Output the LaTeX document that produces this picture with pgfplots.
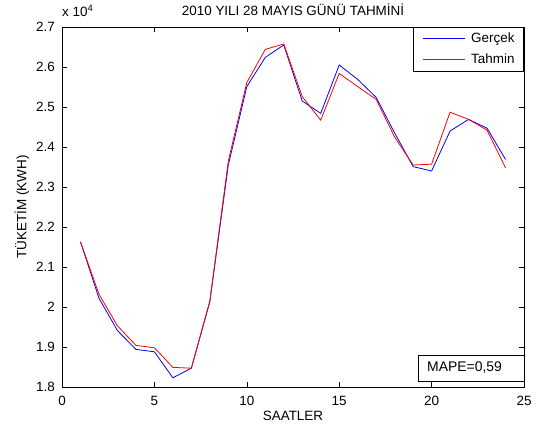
\documentclass[border=0pt]{standalone}
\usepackage{pgfplots}
\pgfplotsset{compat=1.18}
\usepackage{fontspec}
\setmainfont{Liberation Sans}
\definecolor{mblue}{RGB}{0,0,255}
\definecolor{mred}{RGB}{255,0,0}
\begin{document}
\begin{tikzpicture}
\begin{axis}[
  name=ax,
  scale only axis,
  width=462bp, height=360bp,
  clip mode=individual,
  xmin=0, xmax=25, ymin=18000, ymax=27000,
  xtick={0,5,...,25},
  ytick={18000,19000,20000,21000,22000,23000,24000,25000,26000,27000},
  yticklabels={1.8,1.9,2,2.1,2.2,2.3,2.4,2.5,2.6,2.7},
  scaled y ticks=false,
  /pgf/number format/assume math mode=true,
  tick align=inside,
  major tick length=5bp,
  axis line style={line width=0.8bp},
  every tick/.style={black, line width=0.6bp},
  tick label style={font=\fontsize{13.5}{15}\selectfont},
  xticklabel style={anchor=north, inner sep=0pt, yshift=-9bp},
  yticklabel style={anchor=east, inner sep=0pt, xshift=-7bp},
  legend style={at={(rel axis cs:1,1)}, anchor=north east, draw=black, line width=0.8bp,
    font=\fontsize{13.5}{15}\selectfont, inner xsep=9bp, inner ysep=5.3bp,
    nodes={inner sep=0pt, text height=9.5bp, text depth=2.5bp},
    row sep=9bp, column sep=6bp},
  legend cell align=left,
  legend image code/.code={\draw[#1, line width=0.8bp] (0bp,0bp) -- (42bp,0bp);},
]
\addplot[mblue, line width=0.8bp] coordinates {
(1,21630) (2,20220) (3,19410) (4,18940) (5,18880) (6,18230) (7,18470) (8,20130)
(9,23550) (10,25510) (11,26240) (12,26550) (13,25150) (14,24840) (15,26050) (16,25690)
(17,25240) (18,24350) (19,23510) (20,23400) (21,24400) (22,24690) (23,24470) (24,23690)};
\addlegendentry{Gerçek}
\addplot[mred, line width=0.8bp] coordinates {
(1,21630) (2,20320) (3,19530) (4,19040) (5,18980) (6,18490) (7,18470) (8,20150)
(9,23650) (10,25610) (11,26440) (12,26575) (13,25260) (14,24670) (15,25840) (16,25510)
(17,25190) (18,24250) (19,23550) (20,23570) (21,24870) (22,24690) (23,24420) (24,23480)};
\addlegendentry{Tahmin}
\draw[black, line width=0.8bp, fill=white] (rel axis cs:0.7706,0.0167) rectangle (rel axis cs:1,0.0889);
\node[anchor=base west, inner sep=0pt, font=\fontsize{14}{16}\selectfont] at (rel axis cs:0.790,0) [yshift=15.3bp] {MAPE=0,59};
\node[anchor=base west, inner sep=0pt, font=\fontsize{13.5}{15}\selectfont] at (rel axis cs:0,1) [yshift=10.5bp] {x 10\textsuperscript{4}};
\node[anchor=base, inner sep=0pt, font=\fontsize{13.5}{15}\selectfont] at (rel axis cs:0.5,1) [yshift=11bp] {2010 YILI 28 MAYIS GÜNÜ TAHMİNİ};
\node[anchor=base, inner sep=0pt, font=\fontsize{13.5}{15}\selectfont] at (rel axis cs:0.5,0) [yshift=-34bp] {SAATLER};
\node[anchor=base, rotate=90, inner sep=0pt, font=\fontsize{13.5}{15}\selectfont] at ([xshift=-35.5bp] rel axis cs:0,0.5) {TÜKETİM (KWH)};
\coordinate (sw) at (rel axis cs:0,0);
\coordinate (ne) at (rel axis cs:1,1);
\end{axis}
\pgfresetboundingbox
\path (sw) ++(-62bp,-43bp) rectangle ([shift={(14bp,27bp)}]ne);
\end{tikzpicture}
\end{document}
